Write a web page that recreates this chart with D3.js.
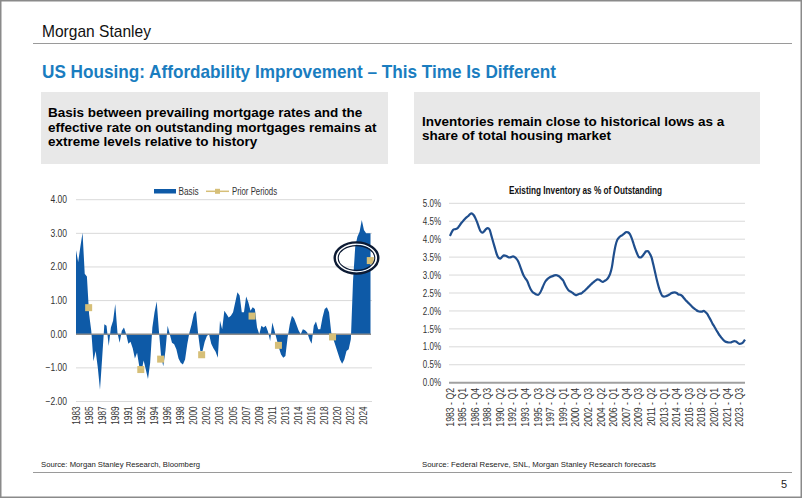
<!DOCTYPE html>
<html><head><meta charset="utf-8">
<script src="https://cdn.jsdelivr.net/npm/d3@7"></script>
<style>html,body{margin:0;padding:0;background:#fff;} svg{display:block;}</style>
</head><body>
<svg id="c" width="802" height="498"></svg>
<script>
// ---------------- DATA ----------------
// Left chart: basis between prevailing mortgage rate and effective outstanding rate
const basis = [2.5,2.15,2.6,3.02,1.8,1.72,0.6,0.1,-0.8,-0.5,
 -1.0,-1.65,-0.7,0.3,0.25,-0.35,0.2,0.4,0.9,0.05,
 -0.25,0.1,0.2,0.0,-0.28,-0.22,-0.42,-0.72,-0.55,-0.95,
 -1.12,-0.78,-1.05,-1.33,-0.85,0.2,0.65,0.97,0.1,-0.65,
 -0.95,-0.5,0.25,0.0,-0.25,-0.3,-0.45,-0.72,-0.85,-0.9,
 -0.75,-0.3,0.05,0.3,0.6,0.7,0.0,-0.5,-0.5,-0.22,
 -0.05,0.0,-0.28,-0.42,-0.52,-0.7,0.4,0.15,0.7,0.6,
 0.5,0.55,0.65,0.95,1.25,1.15,0.65,0.65,1.12,0.95,
 0.7,0.8,0.75,0.2,0.0,0.25,0.2,0.25,0.08,-0.2,
 0.35,0.1,-0.15,-0.4,-0.6,-0.7,-0.65,-0.1,0.3,0.55,
 0.47,0.3,0.12,0.0,0.15,0.12,0.05,-0.15,-0.28,0.25,
 0.38,0.15,0.15,0.5,0.75,0.8,0.65,0.05,-0.15,-0.35,
 -0.55,-0.75,-0.88,-0.75,-0.5,-0.45,-0.15,1.6,2.6,2.9,
 3.05,3.4,3.1,3.0,3.0,3.0];
const basisYearLabels = ["1983","1985","1987","1989","1991","1992","1994","1996","1998","2000","2002","2003",
 "2005","2007","2009","2011","2013","2014","2016","2018","2020","2022","2024"];
const basisLabelEvery = 6;
const priorPos = [5.8, 29.7, 38.8, 57.6, 80.7, 92.8, 117.6, 134.9];
const priorVals = [0.79, -1.05, -0.74, -0.61, 0.54, -0.33, -0.08, 2.19];
const basisTicks = [-2, -1, 0, 1, 2, 3, 4];

// Right chart: existing inventory as % of outstanding (quarterly, 1983-Q2 .. 2024-Q2)
const inventory = [4.09,4.2,4.27,4.28,4.30,4.36,4.43,4.49,4.55,4.6,
 4.64,4.69,4.72,4.68,4.6,4.48,4.34,4.22,4.18,4.22,
 4.28,4.31,4.27,4.1,3.92,3.75,3.58,3.48,3.46,3.51,
 3.55,3.54,3.51,3.49,3.5,3.52,3.5,3.45,3.37,3.24,
 3.1,2.98,2.9,2.83,2.7,2.59,2.52,2.49,2.46,2.45,
 2.5,2.6,2.72,2.82,2.88,2.92,2.95,2.97,2.99,3.0,
 2.98,2.95,2.9,2.84,2.73,2.64,2.57,2.54,2.51,2.47,
 2.44,2.46,2.48,2.49,2.53,2.57,2.62,2.67,2.72,2.77,
 2.81,2.85,2.88,2.87,2.83,2.81,2.84,2.87,2.93,3.03,
 3.22,3.55,3.82,3.98,4.05,4.09,4.12,4.16,4.2,4.19,
 4.14,4.03,3.88,3.73,3.6,3.5,3.49,3.53,3.6,3.66,
 3.67,3.6,3.5,3.3,3.08,2.86,2.67,2.52,2.42,2.4,
 2.41,2.43,2.46,2.49,2.51,2.52,2.5,2.46,2.45,2.42,
 2.36,2.3,2.25,2.2,2.15,2.1,2.06,2.02,1.99,1.98,
 1.98,2.0,1.97,1.92,1.83,1.74,1.64,1.56,1.47,1.39,
 1.31,1.25,1.19,1.15,1.13,1.12,1.12,1.14,1.16,1.15,
 1.11,1.08,1.09,1.13,1.2];
const invQuarterLabels = ["1983 - Q2","1985 - Q1","1986 - Q4","1988 - Q3","1990 - Q2","1992 - Q1","1993 - Q4",
 "1995 - Q3","1997 - Q2","1999 - Q1","2000 - Q4","2002 - Q3","2004 - Q2","2006 - Q1","2007 - Q4","2009 - Q3",
 "2011 - Q2","2013 - Q1","2014 - Q4","2016 - Q3","2018 - Q2","2020 - Q1","2021 - Q4","2023 - Q3"];
const invLabelEvery = 7;
const invTicks = [0,0.5,1,1.5,2,2.5,3,3.5,4,4.5,5];

// ---------------- DRAW ----------------
const svg = d3.select("#c");
const SANS = "'Liberation Sans', Arial, sans-serif";
// horizontally condense a text selection (no narrow font is installed)
function condense(sel, f){
  sel.each(function(){
    const L = this.getComputedTextLength();
    d3.select(this).attr("textLength", (L*f).toFixed(2)).attr("lengthAdjust","spacingAndGlyphs");
  });
  return sel;
}

svg.append("rect").attr("x",0.75).attr("y",0.75).attr("width",800.5).attr("height",496.5)
  .attr("fill","#fff").attr("stroke","#8a8a8a").attr("stroke-width",1.5);

svg.append("text").attr("x",42).attr("y",37).attr("font-family",SANS).attr("font-size",17)
  .attr("textLength",109).attr("lengthAdjust","spacingAndGlyphs").attr("fill","#111").text("Morgan Stanley");
svg.append("line").attr("x1",33).attr("x2",792).attr("y1",43.5).attr("y2",43.5).attr("stroke","#9a9a9a").attr("stroke-width",1);

svg.append("text").attr("x",42).attr("y",78).attr("font-family",SANS).attr("font-weight","bold").attr("font-size",18.5)
  .attr("textLength",514).attr("lengthAdjust","spacingAndGlyphs").attr("fill","#1a7dc0")
  .text("US Housing: Affordability Improvement \u2013 This Time Is Different");

// grey boxes
svg.append("rect").attr("x",41).attr("y",92).attr("width",347).attr("height",72).attr("fill","#e8e8e8");
svg.append("rect").attr("x",414).attr("y",92).attr("width",346).attr("height",72).attr("fill","#e8e8e8");
const leftLines = ["Basis between prevailing mortgage rates and the","effective rate on outstanding mortgages remains at","extreme levels relative to history"];
const lt = svg.append("text").attr("font-family",SANS).attr("font-weight","bold").attr("font-size",13.5).attr("fill","#000");
leftLines.forEach((t,i)=>lt.append("tspan").attr("x",48).attr("y",117.3+i*14.2).text(t));
const rightLines = ["Inventories remain close to historical lows as a","share of total housing market"];
const rt = svg.append("text").attr("font-family",SANS).attr("font-weight","bold").attr("font-size",13.5).attr("fill","#000");
rightLines.forEach((t,i)=>rt.append("tspan").attr("x",422).attr("y",126+i*14.3).text(t));

// ---- Left chart ----
const xL = d3.scaleLinear().domain([0, basis.length-1]).range([76, 370.5]);
const yL = d3.scaleLinear().domain([-2, 4]).range([401.5, 199.7]);
const gL = svg.append("g");
basisTicks.filter(t=>t!==0).forEach(t=>{
  gL.append("line").attr("x1",76).attr("x2",372).attr("y1",yL(t)).attr("y2",yL(t)).attr("stroke","#d9d9d9").attr("stroke-width",1);
});
gL.append("path").datum(basis).attr("fill","#0e5aa7")
  .attr("d", d3.area().x((d,i)=>xL(i)).y0(yL(0)).y1(d=>yL(d)));
gL.append("line").attr("x1",76).attr("x2",371).attr("y1",yL(0)).attr("y2",yL(0)).attr("stroke","#8c8c8c").attr("stroke-width",1.3);
basisTicks.forEach(t=>{
  condense(gL.append("text").attr("x",67).attr("y",yL(t)).attr("dy","0.35em").attr("text-anchor","end")
    .attr("font-family",SANS).attr("font-size",10).attr("fill","#333").text(d3.format(".2f")(t)), 0.85);
});
basisYearLabels.forEach((lab,k)=>{
  const x = xL(k*basisLabelEvery);
  condense(gL.append("text").attr("transform",`translate(${x},406.5) rotate(-90)`).attr("dy","0.35em").attr("text-anchor","end")
    .attr("font-family",SANS).attr("font-size",10).attr("fill","#333").text(lab), 0.82);
});
// prior period markers
priorPos.forEach((p,k)=>{
  gL.append("rect").attr("x",xL(p)-3.5).attr("y",yL(priorVals[k])-3.5).attr("width",7).attr("height",7).attr("fill","#d6bf78");
});
// legend
gL.append("rect").attr("x",141).attr("y",184).attr("width",143).attr("height",14).attr("fill","#fff");
gL.append("rect").attr("x",154).attr("y",189).attr("width",22).attr("height",4.5).attr("fill","#0e5aa7");
condense(gL.append("text").attr("x",178.5).attr("y",195).attr("font-family",SANS).attr("font-size",10).attr("fill","#333").text("Basis"), 0.82);
gL.append("line").attr("x1",206).attr("x2",229).attr("y1",191.3).attr("y2",191.3).attr("stroke","#d6bf78").attr("stroke-width",1.5);
gL.append("rect").attr("x",215).attr("y",188.8).attr("width",5).attr("height",5).attr("fill","#d6bf78");
condense(gL.append("text").attr("x",232).attr("y",195).attr("font-family",SANS).attr("font-size",10).attr("fill","#333").text("Prior Periods"), 0.78);
// highlight ellipse
gL.append("ellipse").attr("cx",356.5).attr("cy",258).attr("rx",20).attr("ry",14).attr("fill","none").attr("stroke","#fff").attr("stroke-width",1.4);
gL.append("ellipse").attr("cx",356.5).attr("cy",258).attr("rx",21.8).attr("ry",15.6).attr("fill","none").attr("stroke","#0c1a33").attr("stroke-width",2.4);
gL.append("ellipse").attr("cx",356.5).attr("cy",258).attr("rx",18.3).attr("ry",12.4).attr("fill","none").attr("stroke","#0c1a33").attr("stroke-width",1.1);

// ---- Right chart ----
const xR = d3.scaleLinear().domain([0, inventory.length-1]).range([450, 745]);
const yR = d3.scaleLinear().domain([0, 5]).range([382.7, 203.3]);
const gR = svg.append("g");
invTicks.filter(t=>t>0).forEach(t=>{
  gR.append("line").attr("x1",449).attr("x2",745).attr("y1",yR(t)).attr("y2",yR(t)).attr("stroke","#d9d9d9").attr("stroke-width",1);
});
gR.append("line").attr("x1",449).attr("x2",745).attr("y1",yR(0)).attr("y2",yR(0)).attr("stroke","#a0a0a0").attr("stroke-width",2);
invTicks.forEach(t=>{
  condense(gR.append("text").attr("x",441).attr("y",yR(t)).attr("dy","0.35em").attr("text-anchor","end")
    .attr("font-family",SANS).attr("font-size",10.5).attr("fill","#333").text(d3.format(".1f")(t)+"%"), 0.76);
});
invQuarterLabels.forEach((lab,k)=>{
  const x = xR(k*invLabelEvery);
  condense(gR.append("text").attr("transform",`translate(${x},388) rotate(-90)`).attr("dy","0.35em").attr("text-anchor","end")
    .attr("font-family",SANS).attr("font-size",10).attr("fill","#333").text(lab), 0.87);
});
gR.append("path").datum(inventory).attr("fill","none").attr("stroke","#1f4e8d").attr("stroke-width",2.2)
  .attr("stroke-linejoin","round").attr("d", d3.line().x((d,i)=>xR(i)).y(d=>yR(d)).curve(d3.curveMonotoneX));
gR.append("text").attr("x",585.5).attr("y",194).attr("text-anchor","middle").attr("font-family",SANS)
  .attr("font-weight","bold").attr("font-size",10.5).attr("textLength",153).attr("lengthAdjust","spacingAndGlyphs")
  .attr("fill","#111").text("Existing Inventory as % of Outstanding");

// sources / footer
svg.append("text").attr("x",41).attr("y",467).attr("font-family",SANS).attr("font-size",8).attr("textLength",159)
  .attr("lengthAdjust","spacingAndGlyphs").attr("fill","#222").text("Source: Morgan Stanley Research, Bloomberg");
svg.append("text").attr("x",422).attr("y",467).attr("font-family",SANS).attr("font-size",8).attr("textLength",234)
  .attr("lengthAdjust","spacingAndGlyphs").attr("fill","#222").text("Source: Federal Reserve, SNL, Morgan Stanley Research forecasts");
svg.append("line").attr("x1",33).attr("x2",792).attr("y1",472.5).attr("y2",472.5).attr("stroke","#9a9a9a").attr("stroke-width",1);
svg.append("text").attr("x",787).attr("y",488).attr("text-anchor","end").attr("font-family",SANS).attr("font-size",11).attr("fill","#222").text("5");
</script>
</body></html>
